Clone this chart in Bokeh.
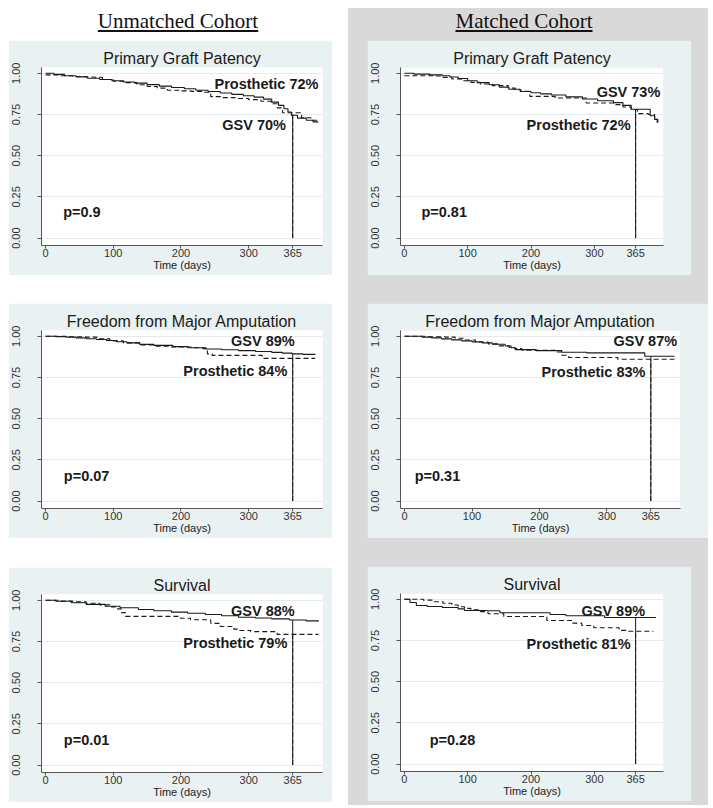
import numpy as np
from bokeh.plotting import figure
from bokeh.models import Label, FixedTicker, PrintfTickFormatter, Div, Range1d
from bokeh.layouts import row, column
from bokeh.embed import file_html
from bokeh.resources import INLINE

# ---------------- data ----------------
LANDMARK = 365
x_ticks = [0, 100, 200, 300, 365]
y_ticks = [0.0, 0.25, 0.5, 0.75, 1.0]

# Unmatched - Primary Graft Patency
p1_gsv_t = [0, 12, 28, 45, 62, 80, 98, 115, 132, 150, 168, 186, 205, 222, 240, 258, 275, 292, 308, 322, 334, 344, 352, 358, 363, 372, 385, 395, 402]
p1_gsv_s = [1.0, 0.993, 0.985, 0.978, 0.97, 0.962, 0.955, 0.947, 0.94, 0.931, 0.922, 0.914, 0.906, 0.897, 0.889, 0.88, 0.872, 0.864, 0.855, 0.843, 0.825, 0.805, 0.785, 0.765, 0.745, 0.728, 0.715, 0.705, 0.70]
p1_pro_t = [0, 20, 40, 60, 72, 84, 100, 118, 135, 150, 165, 180, 198, 215, 232, 244, 262, 280, 300, 318, 333, 342, 350, 378, 392, 402]
p1_pro_s = [0.99, 0.985, 0.98, 0.977, 0.976, 0.962, 0.952, 0.943, 0.93, 0.92, 0.91, 0.897, 0.893, 0.89, 0.885, 0.858, 0.852, 0.847, 0.84, 0.83, 0.815, 0.79, 0.76, 0.73, 0.715, 0.715]

# Matched - Primary Graft Patency
p2_gsv_t = [0, 15, 40, 60, 72, 85, 100, 115, 134, 150, 165, 183, 200, 215, 232, 255, 281, 305, 330, 345, 358, 388, 395, 399]
p2_gsv_s = [1.0, 0.995, 0.99, 0.985, 0.977, 0.968, 0.955, 0.943, 0.93, 0.916, 0.903, 0.889, 0.882, 0.875, 0.868, 0.857, 0.844, 0.833, 0.822, 0.805, 0.782, 0.742, 0.72, 0.70]
p2_pro_t = [0, 20, 45, 60, 75, 90, 105, 120, 139, 164, 175, 184, 198, 238, 287, 331, 345, 358, 368, 385, 395, 400]
p2_pro_s = [0.985, 0.985, 0.983, 0.975, 0.965, 0.955, 0.945, 0.935, 0.925, 0.91, 0.9, 0.89, 0.86, 0.85, 0.82, 0.81, 0.795, 0.78, 0.755, 0.75, 0.72, 0.70]

# Unmatched - Freedom from Major Amputation
p3_gsv_t = [0, 15, 30, 45, 60, 75, 90, 105, 120, 139, 160, 188, 210, 237, 260, 285, 310, 334, 350, 364, 380, 398]
p3_gsv_s = [1.0, 0.998, 0.995, 0.99, 0.985, 0.98, 0.974, 0.967, 0.96, 0.951, 0.945, 0.937, 0.93, 0.923, 0.918, 0.913, 0.908, 0.902, 0.898, 0.893, 0.89, 0.887]
p3_pro_t = [0, 30, 60, 76, 95, 115, 139, 160, 185, 215, 232, 239, 246, 320, 398]
p3_pro_s = [1.0, 0.997, 0.995, 0.984, 0.972, 0.96, 0.947, 0.94, 0.935, 0.93, 0.925, 0.893, 0.884, 0.866, 0.866]

# Matched - Freedom from Major Amputation
p4_gsv_t = [0, 26, 40, 55, 70, 85, 100, 115, 130, 149, 158, 164, 195, 233, 270, 356, 400]
p4_gsv_s = [1.0, 0.995, 0.99, 0.984, 0.978, 0.972, 0.966, 0.96, 0.952, 0.941, 0.93, 0.919, 0.913, 0.903, 0.899, 0.879, 0.879]
p4_pro_t = [0, 30, 60, 75, 90, 105, 124, 140, 155, 164, 174, 225, 233, 243, 316, 400]
p4_pro_s = [1.0, 0.997, 0.995, 0.988, 0.977, 0.965, 0.954, 0.942, 0.932, 0.925, 0.915, 0.905, 0.885, 0.871, 0.861, 0.861]

# Unmatched - Survival
p5_gsv_t = [0, 15, 38, 60, 88, 110, 137, 160, 186, 210, 236, 260, 285, 310, 334, 360, 385, 403]
p5_gsv_s = [1.0, 0.994, 0.985, 0.975, 0.964, 0.955, 0.944, 0.936, 0.928, 0.921, 0.914, 0.906, 0.897, 0.892, 0.887, 0.88, 0.875, 0.871]
p5_pro_t = [0, 20, 40, 60, 80, 95, 103, 112, 118, 199, 214, 244, 258, 278, 285, 303, 342, 403]
p5_pro_s = [1.0, 0.995, 0.99, 0.982, 0.972, 0.96, 0.948, 0.925, 0.902, 0.891, 0.882, 0.86, 0.841, 0.825, 0.817, 0.81, 0.793, 0.793]

# Matched - Survival
p6_gsv_t = [0, 9, 19, 36, 60, 85, 95, 130, 151, 230, 255, 316, 397]
p6_gsv_s = [1.0, 0.98, 0.962, 0.956, 0.95, 0.942, 0.932, 0.93, 0.918, 0.908, 0.9, 0.889, 0.889]
p6_pro_t = [0, 30, 45, 61, 75, 85, 95, 105, 120, 132, 157, 225, 265, 280, 299, 339, 353, 393]
p6_pro_s = [1.0, 0.995, 0.985, 0.976, 0.965, 0.955, 0.945, 0.936, 0.925, 0.912, 0.895, 0.871, 0.855, 0.841, 0.827, 0.811, 0.806, 0.806]

titles = ["Primary Graft Patency", "Primary Graft Patency",
          "Freedom from Major Amputation", "Freedom from Major Amputation",
          "Survival", "Survival"]
gsv_labels = ["GSV 70%", "GSV 73%", "GSV 89%", "GSV 87%", "GSV 88%", "GSV 89%"]
pro_labels = ["Prosthetic 72%", "Prosthetic 72%", "Prosthetic 84%", "Prosthetic 83%", "Prosthetic 79%", "Prosthetic 81%"]
p_values = ["p=0.9", "p=0.81", "p=0.07", "p=0.31", "p=0.01", "p=0.28"]
cohort_titles = ["Unmatched Cohort", "Matched Cohort"]

# ---------------- styling ----------------
PANEL_BG = "#e9f1f3"
COL_GRAY = "#d9d9d9"
GRID = "#e3ebee"
INK = "#1a1a1a"
FONT = "Liberation Sans"


def value_at(ts, ss, t0):
    ts = np.asarray(ts)
    idx = np.searchsorted(ts, t0, side="right") - 1
    return float(np.asarray(ss)[idx])


def km_panel(title, gt, gs, pt, ps, glab, plab, pval, gpos, ppos, pvpos, width, rb):
    p = figure(width=width, height=235, x_range=Range1d(-6, 409), y_range=Range1d(-0.045, 1.035),
               output_backend="svg", toolbar_location=None,
               min_border_left=33, min_border_right=rb, min_border_top=27, min_border_bottom=30,
               border_fill_color=PANEL_BG, background_fill_color="white",
               outline_line_color=None, title=title)
    p.title.align = "center"
    p.title.text_font = FONT
    p.title.text_font_size = "16px"
    p.title.text_font_style = "normal"
    p.title.text_color = INK
    p.title.standoff = 2

    p.xgrid.visible = False
    p.ygrid.ticker = FixedTicker(ticks=y_ticks)
    p.ygrid.grid_line_color = GRID

    xa = p.xaxis[0]
    xa.ticker = FixedTicker(ticks=x_ticks)
    xa.axis_label = "Time (days)"
    xa.axis_label_text_font = FONT
    xa.axis_label_text_font_size = "11px"
    xa.axis_label_text_font_style = "normal"
    xa.axis_label_text_color = "#222222"
    xa.axis_label_standoff = -1
    xa.major_label_standoff = 0
    xa.major_tick_out = 3
    xa.major_tick_in = 0
    xa.minor_tick_line_color = None

    ya = p.yaxis[0]
    ya.ticker = FixedTicker(ticks=y_ticks)
    ya.formatter = PrintfTickFormatter(format="%.2f")
    ya.major_label_orientation = "vertical"
    ya.major_label_standoff = 17
    ya.major_tick_out = 4
    ya.major_tick_in = 0
    ya.minor_tick_line_color = None

    for ax in (xa, ya):
        ax.major_label_text_font = FONT
        ax.major_label_text_font_size = "11px"
        ax.major_label_text_color = "#333333"
        ax.axis_line_color = "#555555"
        ax.major_tick_line_color = "#555555"

    p.step(gt, gs, mode="after", line_color=INK, line_width=1.1)
    p.step(pt, ps, mode="after", line_color=INK, line_width=1.1, line_dash="5 3")

    g365 = value_at(gt, gs, LANDMARK)
    p365 = value_at(pt, ps, LANDMARK)
    p.segment(x0=[LANDMARK], y0=[0], x1=[LANDMARK], y1=[p365], line_color=INK, line_width=1, line_dash="5 2")
    p.segment(x0=[LANDMARK], y0=[0], x1=[LANDMARK], y1=[g365], line_color=INK, line_width=1)

    for txt, (x, y), align in ((glab, gpos, "right"), (plab, ppos, "right"), (pval, pvpos, "left")):
        p.add_layout(Label(x=x, y=y, text=txt, text_align=align, text_baseline="middle",
                           text_font=FONT, text_font_style="bold", text_font_size="14.5px",
                           text_color=INK))
    return p


# label anchor positions (data coordinates) per panel
gsv_pos = [(355, 0.689), (404, 0.885), (368, 0.974), (404, 0.970), (368, 0.934), (380, 0.926)]
pro_pos = [(403, 0.936), (357, 0.689), (357, 0.788), (357, 0.782), (357, 0.740), (357, 0.730)]
pv_pos = [(26, 0.157), (27, 0.157), (27, 0.155), (15, 0.155), (27, 0.153), (40, 0.147)]

series = [(p1_gsv_t, p1_gsv_s, p1_pro_t, p1_pro_s), (p2_gsv_t, p2_gsv_s, p2_pro_t, p2_pro_s),
          (p3_gsv_t, p3_gsv_s, p3_pro_t, p3_pro_s), (p4_gsv_t, p4_gsv_s, p4_pro_t, p4_pro_s),
          (p5_gsv_t, p5_gsv_s, p5_pro_t, p5_pro_s), (p6_gsv_t, p6_gsv_s, p6_pro_t, p6_pro_s)]
widths = [324, 324, 324, 341, 324, 324]
rborders = [10, 10, 10, 28, 10, 10]

panels = []
for i in range(6):
    gt, gs, pt, ps = series[i]
    panels.append(km_panel(titles[i], gt, gs, pt, ps, gsv_labels[i], pro_labels[i], p_values[i],
                           gsv_pos[i], pro_pos[i], pv_pos[i], widths[i], rborders[i]))

head_style = {"font-family": "Liberation Serif", "font-size": "21px", "text-align": "center",
              "line-height": "26px", "color": "#111111"}
div_l = Div(text="<u>%s</u>" % cohort_titles[0], width=340, height=32, margin=(0, 0, 0, 0), styles=head_style)
div_r = Div(text="<u>%s</u>" % cohort_titles[1], width=352, height=32, margin=(0, 8, 0, 0), styles=head_style)

p1, p2, p3, p4, p5, p6 = panels
p1.margin = (0, 16, 0, 0)
p3.margin = (28, 16, 0, 0)
p5.margin = (29, 16, 0, 0)
p2.margin = (0, 17, 0, 19)
p4.margin = (28, 0, 0, 19)
p6.margin = (28, 17, 4, 19)

left = column(div_l, p1, p3, p5, spacing=0)
right = column(div_r, p2, p4, p6, spacing=0, styles={"background-color": COL_GRAY})
layout = row(left, right, spacing=0, margin=(8, 0, 0, 8))

open("out.html", "w").write(file_html(layout, INLINE))
